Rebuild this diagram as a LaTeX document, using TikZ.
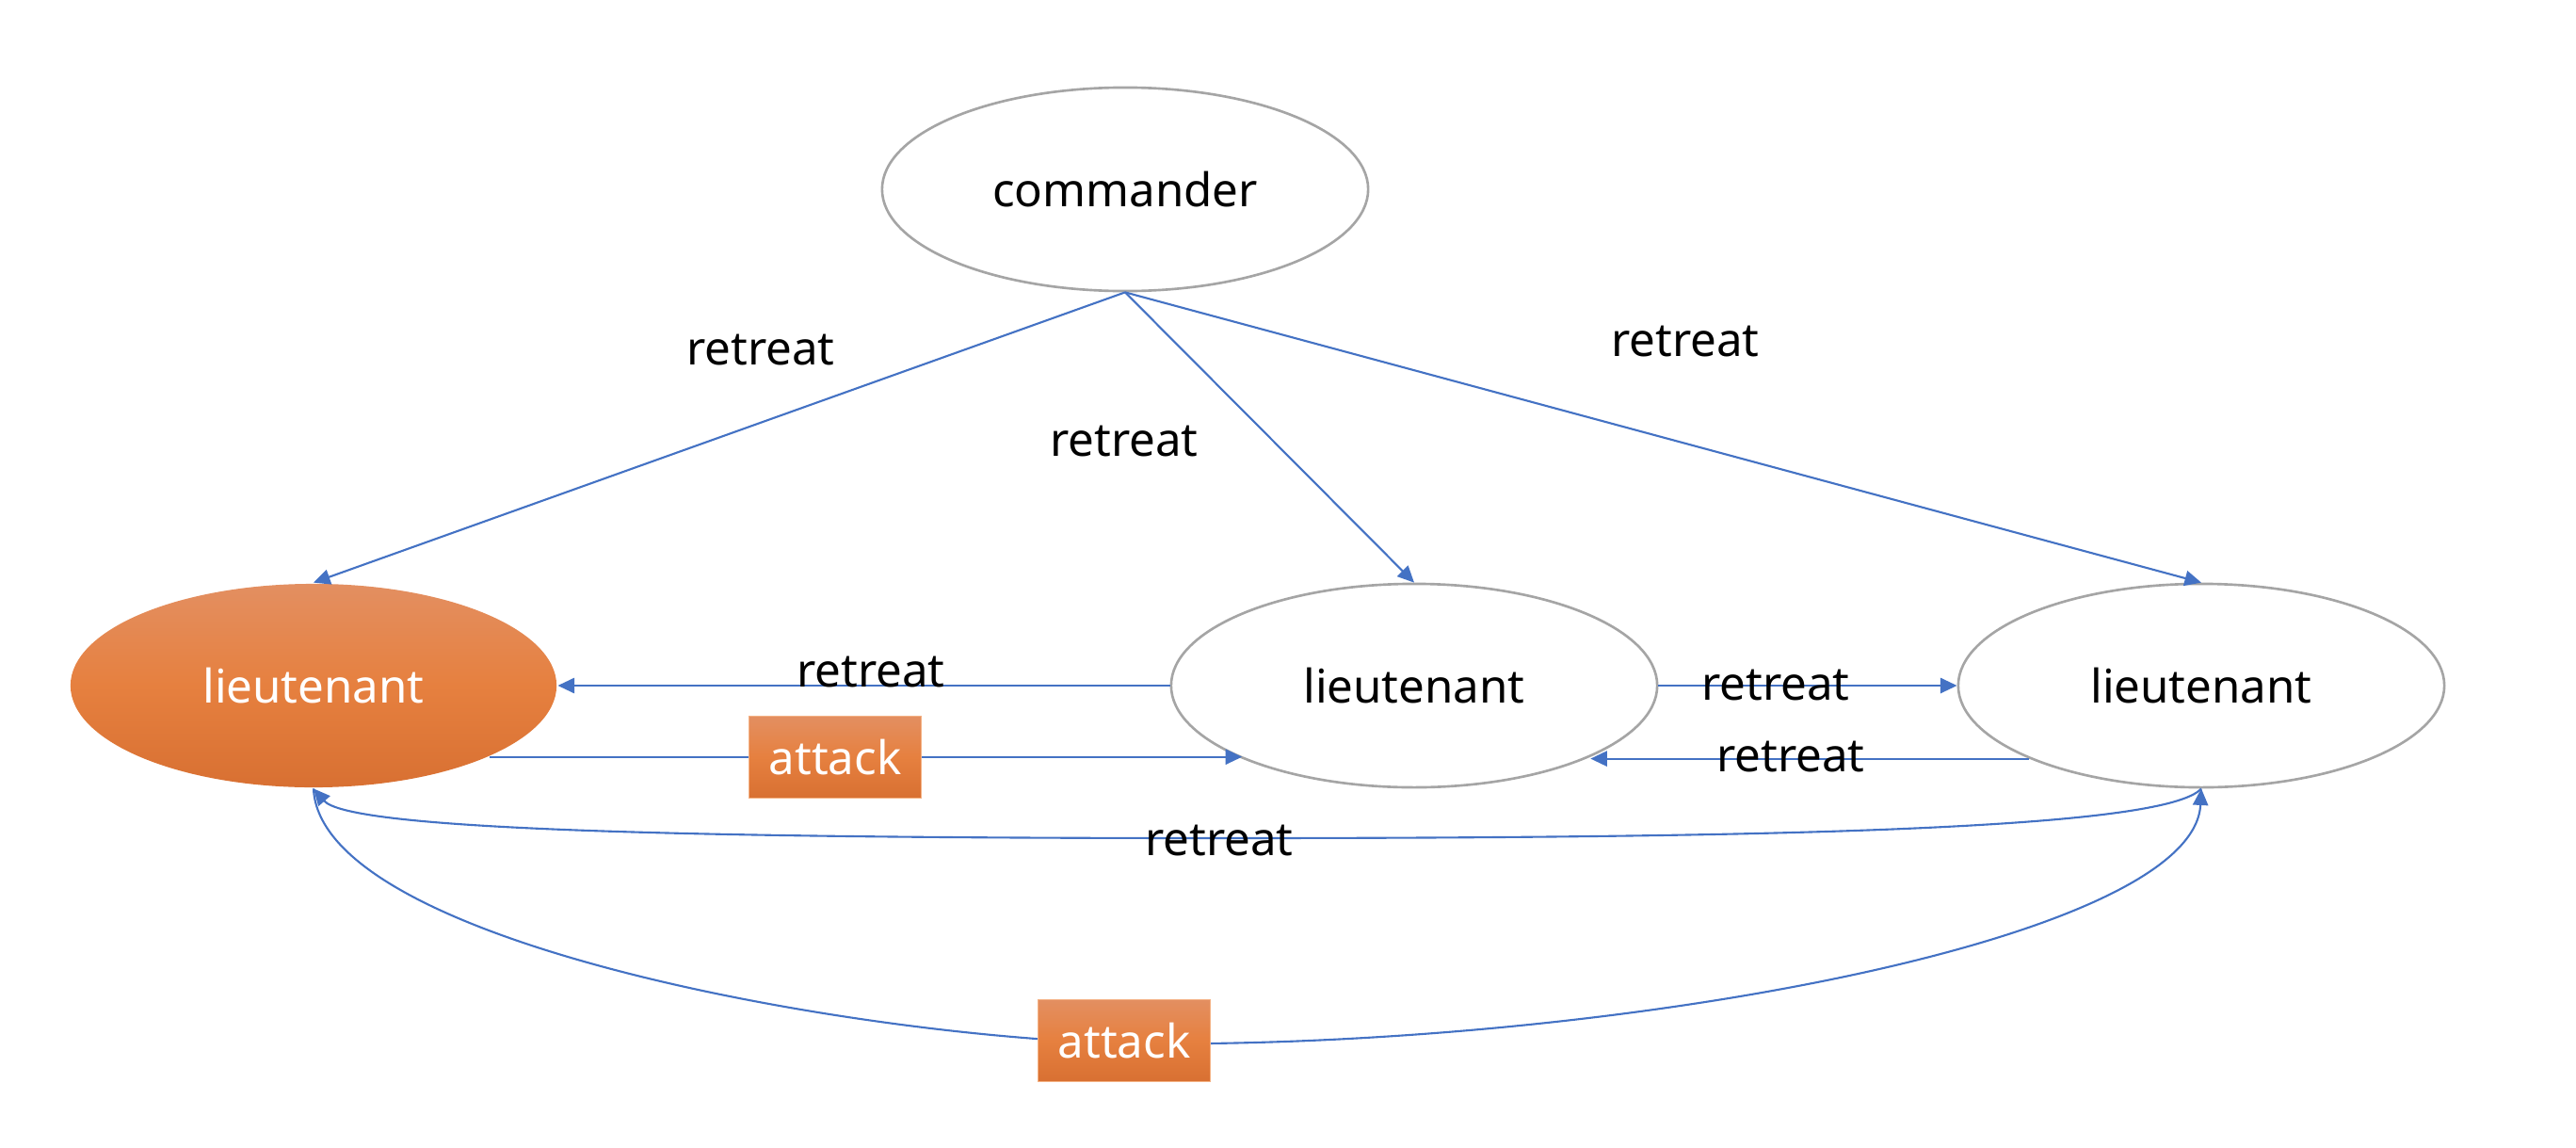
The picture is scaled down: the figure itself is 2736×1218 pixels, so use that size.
\documentclass[tikz,border=0pt]{standalone}
\usepackage{fontspec}
\setmainfont{Noto Sans}
\usetikzlibrary{shapes.geometric,arrows.meta}
\definecolor{lineblue}{RGB}{68,114,196}
\definecolor{ellgray}{RGB}{165,165,165}
\definecolor{orTop}{RGB}{227,143,97}
\definecolor{orMid}{RGB}{230,128,63}
\definecolor{orBot}{RGB}{216,112,50}
\definecolor{orBorder}{RGB}{244,177,131}
\begin{document}
\begin{tikzpicture}[x=0.01cm,y=-0.01cm,
  font=\fontsize{14}{17}\selectfont,
  general/.style={ellipse, draw=ellgray, line width=0.75pt, minimum width=5.16cm, minimum height=2.16cm, inner sep=0pt},
  orangefill/.style={top color=orTop, bottom color=orBot, middle color=orMid, text=white},
  attackbox/.style={rectangle, draw=orBorder, line width=0.4pt, minimum width=1.83cm, minimum height=0.87cm, inner sep=0pt, orangefill},
  conn/.style={draw=lineblue, line width=0.6pt},
  arr/.style={conn, -{Triangle[length=5pt,width=4.6pt]}},
  lbl/.style={inner sep=0pt}
]
\useasboundingbox (0,0) rectangle (2736,1218);
\fill[white] (0,0) rectangle (2736,1218);

\node[general] (C) at (1195,201) {commander};
\node[general, draw=none, orangefill] (L) at (333,728) {lieutenant};
\node[general] (M) at (1502,728) {lieutenant};
\node[general] (R) at (2338,728) {lieutenant};

\draw[arr] (C.south) -- (L.north);
\draw[arr] (C.south) -- (M.north);
\draw[arr] (C.south) -- (R.north);
\draw[arr] (M.west) -- (L.east);
\draw[arr] (M.east) -- (R.west);
\draw[arr] (L.-22.5) -- (L.-22.5 -| M.-157.5);
\draw[arr] (R.-157.5) -- (R.-157.5 -| M.-22.5);
\draw[arr] (R.south) .. controls (2300,880) and (1900,890) .. (1300,890)
  .. controls (700,890) and (370,880) .. (L.south);
\draw[arr] (L.south) .. controls (340,1000) and (900,1100) .. (1194,1108)
  .. controls (1700,1115) and (2330,1000) .. (R.south);

\node[attackbox] (A1) at (887,804) {attack};
\node[attackbox] (A2) at (1194,1105) {attack};

\node[lbl] (t1) at (808,372) {retreat};
\node[lbl] (t2) at (1194,469) {retreat};
\node[lbl] (t3) at (1790,363) {retreat};
\node[lbl] (t4) at (925,714) {retreat};
\node[lbl] (t5) at (1886,728) {retreat};
\node[lbl] (t6) at (1902,804) {retreat};
\node[lbl] (t7) at (1295,893) {retreat};
\end{tikzpicture}
\end{document}
